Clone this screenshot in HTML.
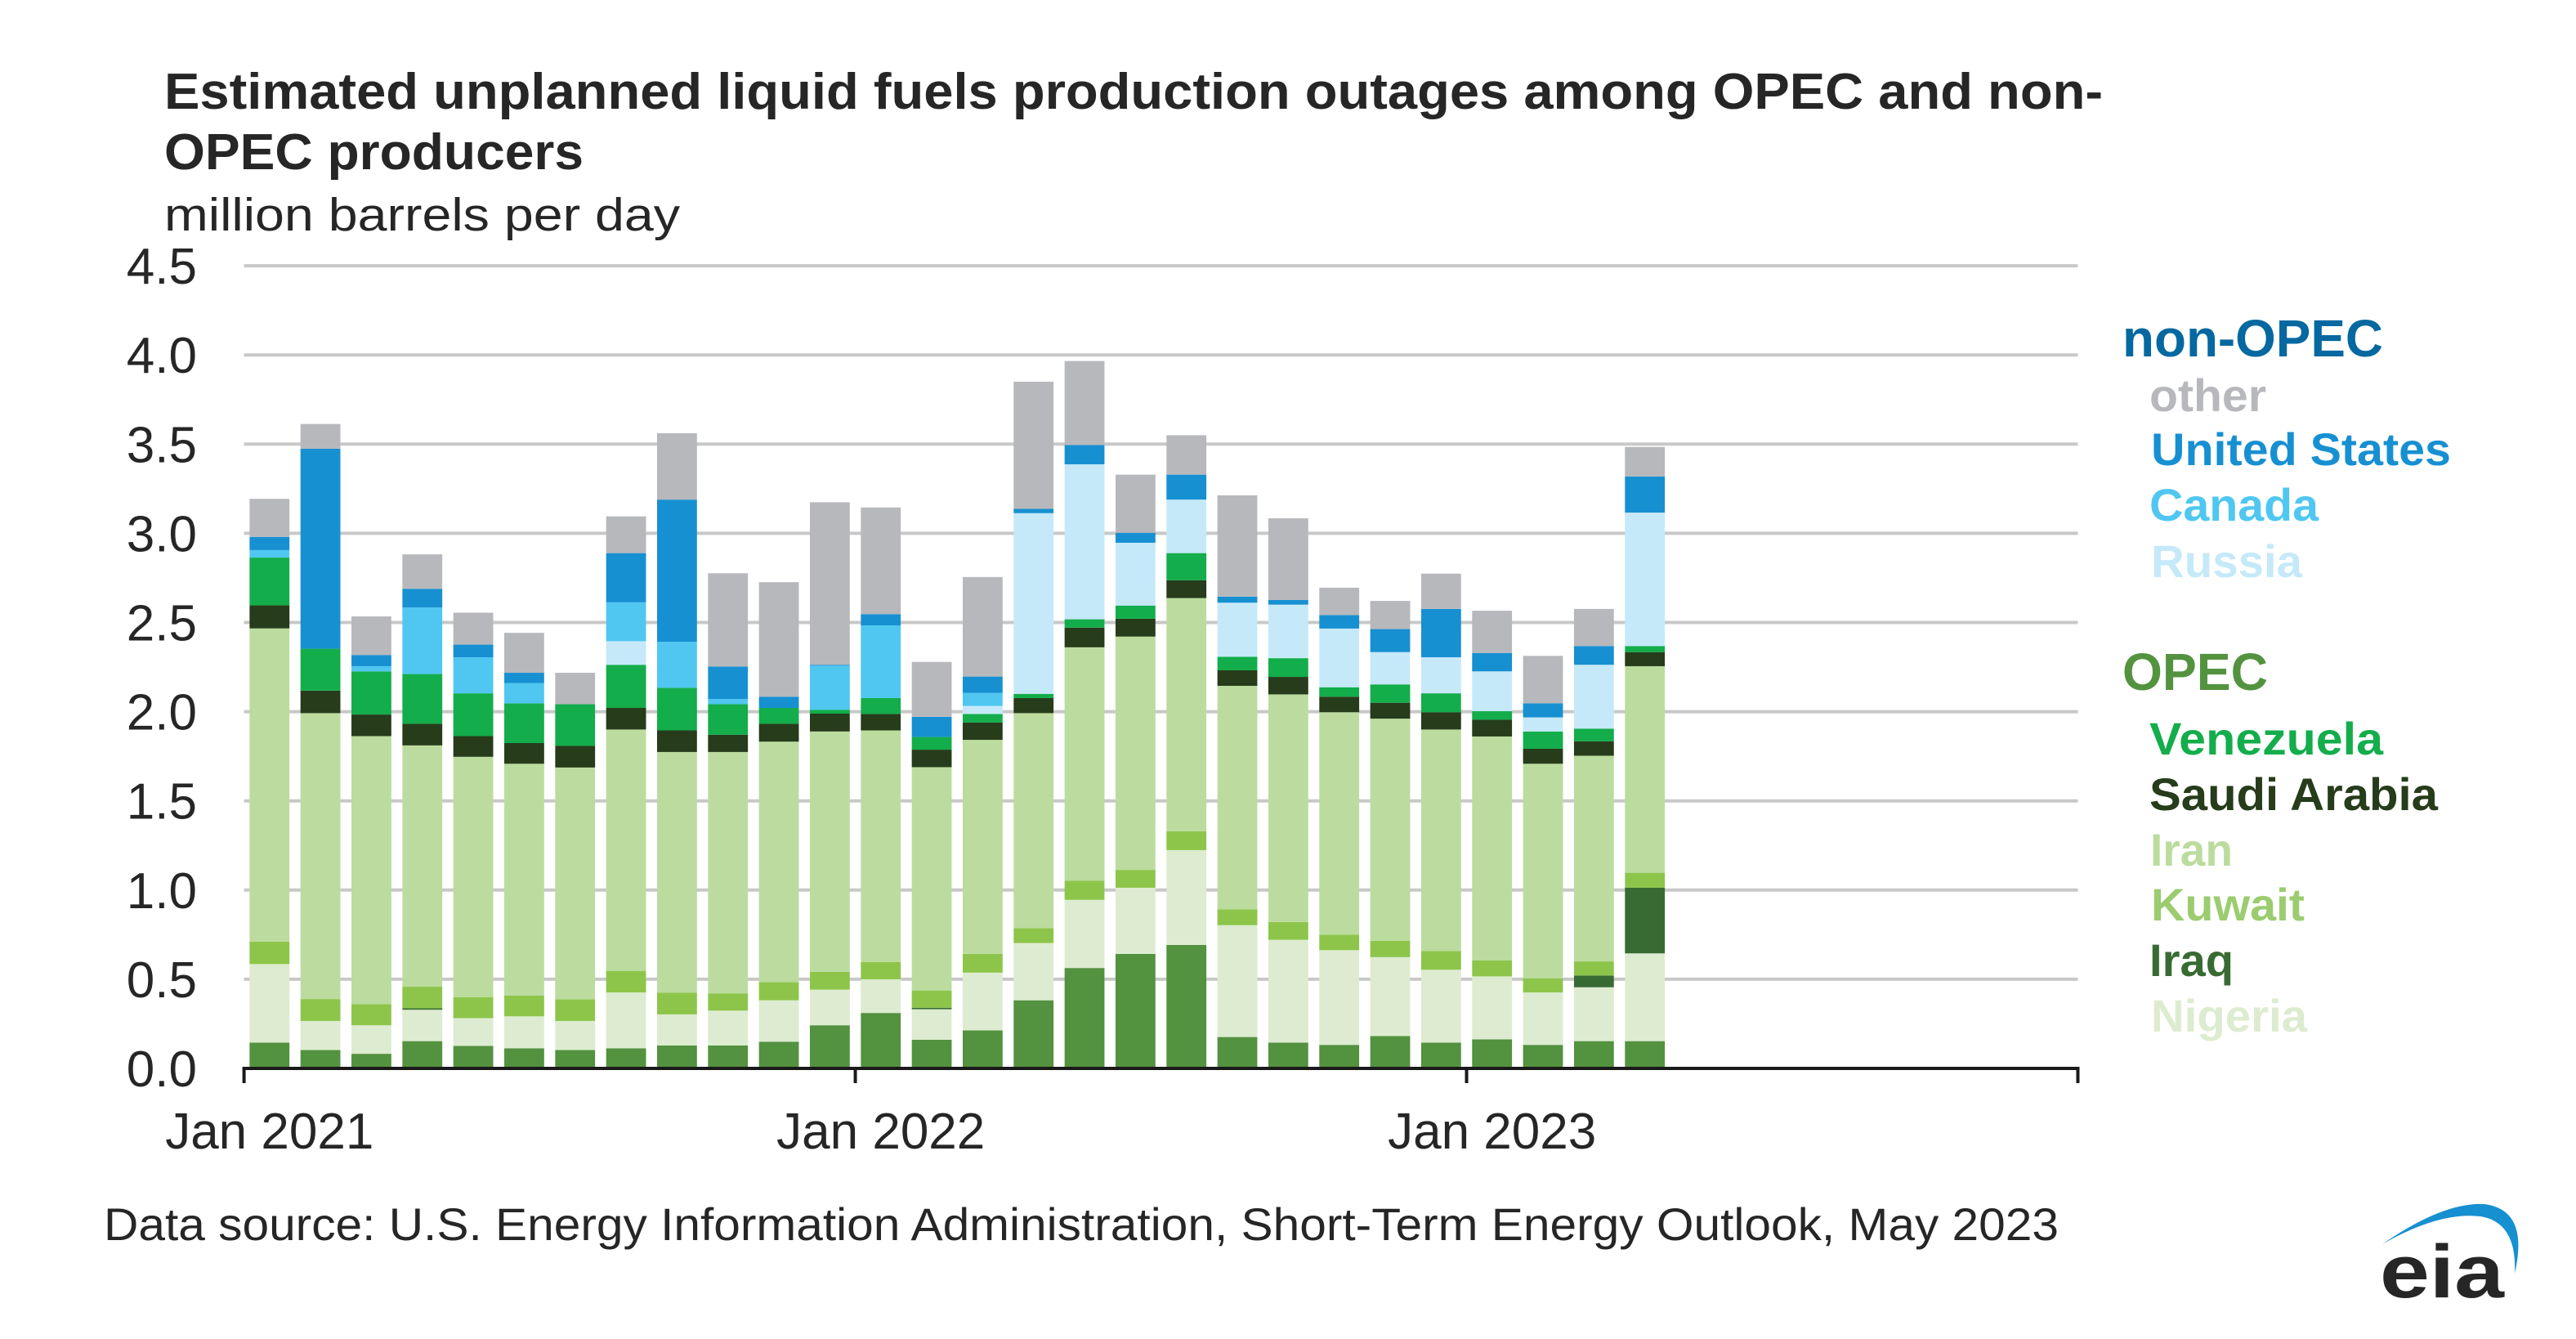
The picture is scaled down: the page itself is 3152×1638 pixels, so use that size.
<!DOCTYPE html>
<html><head><meta charset="utf-8">
<style>
html,body{margin:0;padding:0;background:#fff;}
svg{display:block;font-family:"Liberation Sans",Arial,sans-serif;}
</style></head>
<body>
<svg id="chart" width="3152" height="1638" viewBox="0 0 3152 1638" xmlns="http://www.w3.org/2000/svg">
<text x="201" y="133" font-size="62" font-weight="bold" fill="#262626" textLength="2372" lengthAdjust="spacingAndGlyphs">Estimated unplanned liquid fuels production outages among OPEC and non-</text>
<text x="201" y="207" font-size="62" font-weight="bold" fill="#262626" textLength="513" lengthAdjust="spacingAndGlyphs">OPEC producers</text>
<text x="201" y="282" font-size="57" fill="#262626" textLength="631" lengthAdjust="spacingAndGlyphs">million barrels per day</text>
<g id="grid"></g>
<g id="bars"></g>
<g id="axis"></g>
<g id="legend">
<text x="2597" y="436" font-size="64" font-weight="bold" fill="#0568a0" textLength="319" lengthAdjust="spacingAndGlyphs">non-OPEC</text>
<text x="2630" y="503" font-size="56" font-weight="bold" fill="#b7b8bc" textLength="143" lengthAdjust="spacingAndGlyphs">other</text>
<text x="2632" y="569" font-size="56" font-weight="bold" fill="#1790d2" textLength="367" lengthAdjust="spacingAndGlyphs">United States</text>
<text x="2630" y="637" font-size="56" font-weight="bold" fill="#4fc7f1" textLength="207" lengthAdjust="spacingAndGlyphs">Canada</text>
<text x="2632" y="706" font-size="56" font-weight="bold" fill="#c5e9f9" textLength="185" lengthAdjust="spacingAndGlyphs">Russia</text>
<text x="2597" y="844" font-size="64" font-weight="bold" fill="#539340" textLength="178" lengthAdjust="spacingAndGlyphs">OPEC</text>
<text x="2630" y="923" font-size="56" font-weight="bold" fill="#13ad4b" textLength="286" lengthAdjust="spacingAndGlyphs">Venezuela</text>
<text x="2630" y="991" font-size="56" font-weight="bold" fill="#263c1a" textLength="353" lengthAdjust="spacingAndGlyphs">Saudi Arabia</text>
<text x="2631" y="1059" font-size="56" font-weight="bold" fill="#bbdc9e" textLength="101" lengthAdjust="spacingAndGlyphs">Iran</text>
<text x="2632" y="1126" font-size="56" font-weight="bold" fill="#9bcc6f" textLength="188" lengthAdjust="spacingAndGlyphs">Kuwait</text>
<text x="2630" y="1194" font-size="56" font-weight="bold" fill="#386b33" textLength="103" lengthAdjust="spacingAndGlyphs">Iraq</text>
<text x="2632" y="1262" font-size="56" font-weight="bold" fill="#ddecd0" textLength="191" lengthAdjust="spacingAndGlyphs">Nigeria</text>
</g>
<text x="127" y="1517" font-size="56" fill="#262626" textLength="2392" lengthAdjust="spacingAndGlyphs">Data source: U.S. Energy Information Administration, Short-Term Energy Outlook, May 2023</text>
<g>
<path d="M2915 1522 Q2990 1470 3040 1473 Q3095 1480 3077 1558 Q3080 1495 3035 1488 Q2985 1482 2915 1522 Z" fill="#1790d2"/>
<text x="2912" y="1587" font-size="92" font-weight="bold" fill="#262626" textLength="152" lengthAdjust="spacingAndGlyphs">eia</text>
</g>
</svg>
<script>
const months = ["Jan 2021","Feb 2021","Mar 2021","Apr 2021","May 2021","Jun 2021","Jul 2021","Aug 2021","Sep 2021","Oct 2021","Nov 2021","Dec 2021","Jan 2022","Feb 2022","Mar 2022","Apr 2022","May 2022","Jun 2022","Jul 2022","Aug 2022","Sep 2022","Oct 2022","Nov 2022","Dec 2022","Jan 2023","Feb 2023","Mar 2023","Apr 2023"];
const yTicks = [0,0.5,1,1.5,2,2.5,3,3.5,4,4.5];
const yTickLabels = ["0.0","0.5","1.0","1.5","2.0","2.5","3.0","3.5","4.0","4.5"];
const xTickLabels = ["Jan 2021","Jan 2022","Jan 2023"];
const xTickMonthIndex = [0,12,24,36];
const libya = [.145,.103,.082,.153,.126,.113,.103,.113,.129,.129,.15,.242,.311,.161,.213,.382,.563,.642,.692,.176,.145,.132,.182,.145,.163,.132,.153,.153];
const nigeria = [.44,.163,.16,.176,.156,.179,.163,.313,.174,.195,.232,.2,.189,.171,.324,.321,.382,.371,.532,.627,.576,.531,.442,.408,.353,.294,.302,.492];
const iraq = [0,0,0,.008,0,0,0,0,0,0,0,0,0,.008,0,0,0,0,0,0,0,0,0,0,0,0,.066,.368];
const kuwait = [.126,.123,.119,.121,.118,.116,.121,.121,.121,.097,.102,.1,.097,.097,.105,.084,.108,.1,.105,.089,.1,.087,.092,.105,.089,.079,.079,.084];
const iran = [1.756,1.603,1.502,1.353,1.347,1.3,1.3,1.353,1.35,1.353,1.348,1.347,1.298,1.252,1.2,1.205,1.308,1.308,1.308,1.253,1.276,1.247,1.245,1.242,1.256,1.203,1.153,1.158];
const saudi = [.129,.126,.121,.121,.116,.116,.121,.121,.121,.097,.1,.1,.092,.098,.097,.084,.11,.1,.1,.087,.098,.087,.089,.097,.094,.084,.081,.079];
const venezuela = [.268,.235,.242,.279,.24,.223,.234,.242,.239,.171,.089,.022,.089,.071,.048,.024,.047,.074,.152,.076,.105,.053,.103,.106,.048,.097,.071,.034];
const russia = [0,0,0,0,0,0,0,.132,0,0,0,0,0,0,.045,1.013,.869,.352,.3,.303,.3,.329,.181,.202,.223,.079,.358,.748];
const canada = [.042,0,.029,.373,.202,.114,0,.218,.258,.029,0,.247,.408,0,.073,0,0,0,0,0,0,0,0,0,0,0,0,0];
const unitedStates = [.074,1.121,.063,.105,.071,.057,0,.276,.797,.182,.063,.005,.063,.113,.092,.024,.108,.056,.14,.034,.026,.076,.129,.271,.103,.079,.105,.202];
const other = [.213,.139,.216,.193,.179,.224,.176,.206,.372,.523,.642,.911,.598,.308,.558,.713,.471,.326,.221,.568,.458,.153,.158,.198,.237,.266,.208,.166];

const series = [
  {name:"libya", vals:libya, color:"#53923f"},
  {name:"nigeria", vals:nigeria, color:"#ddecd0"},
  {name:"iraq", vals:iraq, color:"#386b33"},
  {name:"kuwait", vals:kuwait, color:"#8dc54a"},
  {name:"iran", vals:iran, color:"#bbdc9e"},
  {name:"saudi-arabia", vals:saudi, color:"#263c1a"},
  {name:"venezuela", vals:venezuela, color:"#13ad4b"},
  {name:"russia", vals:russia, color:"#c5e9f9"},
  {name:"canada", vals:canada, color:"#4fc7f1"},
  {name:"united-states", vals:unitedStates, color:"#1790d2"},
  {name:"other", vals:other, color:"#b7b8bc"}
];

const NS="http://www.w3.org/2000/svg";
const X0=298.6, MW=62.33, Y0=1307, PU=218.2, BW=48.8;
const xM = m => X0 + m*MW;
const yV = v => Y0 - v*PU;
function mk(tag, attrs, parent){const e=document.createElementNS(NS,tag);for(const k in attrs)e.setAttribute(k,attrs[k]);parent.appendChild(e);return e;}

const grid=document.getElementById('grid');
yTicks.forEach((t,i)=>{
  if(t>0){
    const l=mk('line',{x1:X0,x2:xM(36),y1:yV(t),y2:yV(t),stroke:'#c8c8c8','stroke-width':4},grid);
    
    
  }
  const tx=mk('text',{x:241,y:yV(t)+22,'font-size':62,fill:'#262626','text-anchor':'end'},grid);
  
  
  tx.textContent=yTickLabels[i];
});

const bars=document.getElementById('bars');
months.forEach((m,i)=>{
  const g=mk('g',{},bars);
  
  
  let cum=0;
  series.forEach(s=>{
    const v=s.vals[i];
    if(v>0){
      const r=mk('rect',{x:xM(i)+(MW-BW)/2,y:yV(cum+v),width:BW,height:v*PU,fill:s.color},g);
      
      
    }
    cum+=v;
  });
});

const axis=document.getElementById('axis');
const al=mk('line',{x1:X0-2,x2:xM(36)+2,y1:Y0,y2:Y0,stroke:'#1a1a1a','stroke-width':4},axis);


xTickMonthIndex.forEach(m=>{
  const t=mk('line',{x1:xM(m),x2:xM(m),y1:Y0,y2:Y0+18,stroke:'#1a1a1a','stroke-width':4},axis);
  
  
});
xTickLabels.forEach((lab,i)=>{
  const t=mk('text',{x:xM(xTickMonthIndex[i])+MW/2,y:1405,'font-size':62,fill:'#262626','text-anchor':'middle'},axis);
  
  
  t.textContent=lab;
});
</script>
</body></html>
